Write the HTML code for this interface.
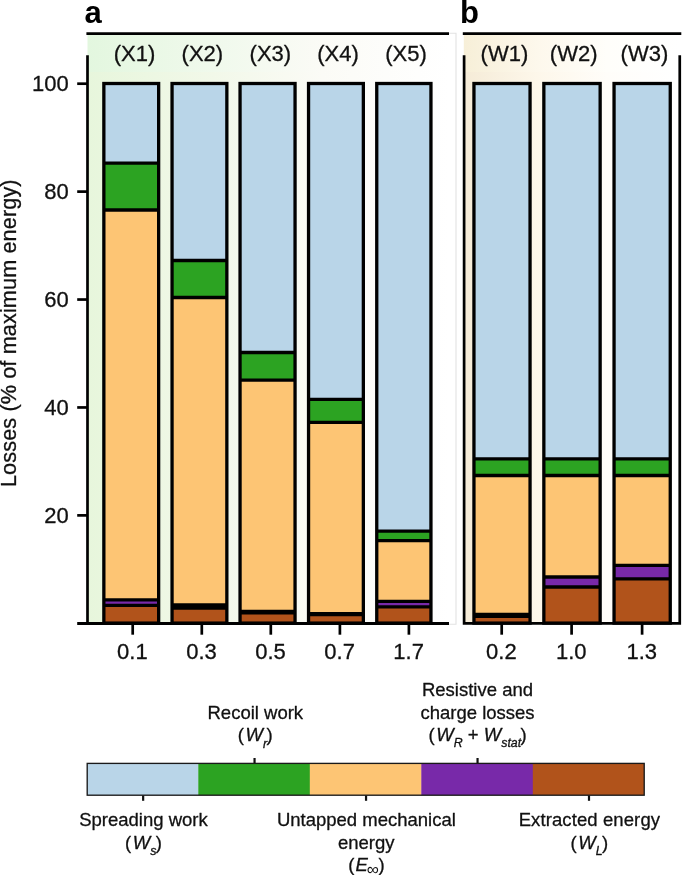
<!DOCTYPE html>
<html lang="en"><head><meta charset="utf-8"><title>Losses chart</title>
<style>
html,body{margin:0;padding:0;background:#fff;}
body{width:685px;height:875px;overflow:hidden;}
svg{display:block;}
text{font-family:"Liberation Sans",Arial,Helvetica,sans-serif;fill:#111;stroke:#111;stroke-width:0.3px;stroke-linejoin:round;}
.ax{font-size:22.0px;}
.lg{font-size:18.5px;}
.it{font-style:italic;}
.pl{font-size:31px;font-weight:bold;fill:#000;stroke:none;}
</style></head><body>
<svg width="685" height="875" viewBox="0 0 685 875">
<defs>
<linearGradient id="ga1" x1="0" x2="1" y1="0" y2="0">
<stop offset="0" stop-color="#e3f7df"/><stop offset="0.35" stop-color="#f0f9ec"/><stop offset="0.65" stop-color="#fbfbf6"/><stop offset="1" stop-color="#ffffff"/>
</linearGradient>
<linearGradient id="ga2" x1="0" x2="1" y1="0" y2="0">
<stop offset="0" stop-color="#e7f6dc"/><stop offset="0.35" stop-color="#f2f8e9"/><stop offset="0.65" stop-color="#fbfbf6"/><stop offset="1" stop-color="#ffffff"/>
</linearGradient>
<linearGradient id="gb1" x1="0" x2="1" y1="0" y2="0">
<stop offset="0" stop-color="#f7efd8"/><stop offset="0.34" stop-color="#fdf8ec"/><stop offset="0.66" stop-color="#fffefa"/><stop offset="1" stop-color="#ffffff"/>
</linearGradient>
<linearGradient id="gb2" x1="0" x2="1" y1="0" y2="0">
<stop offset="0" stop-color="#f5ebd7"/><stop offset="0.34" stop-color="#fdf7ea"/><stop offset="0.66" stop-color="#fffdf9"/><stop offset="1" stop-color="#ffffff"/>
</linearGradient>
</defs>
<rect x="0" y="0" width="685" height="875" fill="#ffffff"/>

<rect x="87.5" y="34" width="361.5" height="38" fill="url(#ga1)"/>
<rect x="87.5" y="72" width="361.5" height="551" fill="url(#ga2)"/>
<rect x="463.8" y="34" width="216.2" height="38" fill="url(#gb1)"/>
<rect x="463.8" y="72" width="216.2" height="551" fill="url(#gb2)"/>
<path d="M449 33.2H456V624.2H449" fill="none" stroke="#e2e2e2" stroke-width="1.1"/>
<rect x="103.85" y="83.50" width="54.80" height="79.60" fill="#b9d5e8"/>
<rect x="103.85" y="163.10" width="54.80" height="46.90" fill="#2ca322"/>
<rect x="103.85" y="210.00" width="54.80" height="389.90" fill="#fdc574"/>
<rect x="103.85" y="599.90" width="54.80" height="5.40" fill="#7829a9"/>
<rect x="103.85" y="605.30" width="54.80" height="17.80" fill="#b1531b"/>
<line x1="103.85" x2="158.65" y1="163.10" y2="163.10" stroke="#000" stroke-width="3.30"/>
<line x1="103.85" x2="158.65" y1="210.00" y2="210.00" stroke="#000" stroke-width="3.30"/>
<line x1="103.85" x2="158.65" y1="599.90" y2="599.90" stroke="#000" stroke-width="3.30"/>
<line x1="103.85" x2="158.65" y1="605.30" y2="605.30" stroke="#000" stroke-width="3.30"/>
<rect x="103.85" y="83.50" width="54.80" height="539.60" fill="none" stroke="#000" stroke-width="3.30"/>
<rect x="172.05" y="83.50" width="54.80" height="177.00" fill="#b9d5e8"/>
<rect x="172.05" y="260.50" width="54.80" height="37.00" fill="#2ca322"/>
<rect x="172.05" y="297.50" width="54.80" height="307.45" fill="#fdc574"/>
<rect x="172.05" y="604.95" width="54.80" height="3.20" fill="#7829a9"/>
<rect x="172.05" y="608.15" width="54.80" height="14.95" fill="#b1531b"/>
<line x1="172.05" x2="226.85" y1="260.50" y2="260.50" stroke="#000" stroke-width="3.30"/>
<line x1="172.05" x2="226.85" y1="297.50" y2="297.50" stroke="#000" stroke-width="3.30"/>
<line x1="172.05" x2="226.85" y1="604.95" y2="604.95" stroke="#000" stroke-width="3.30"/>
<line x1="172.05" x2="226.85" y1="608.15" y2="608.15" stroke="#000" stroke-width="3.30"/>
<rect x="172.05" y="604.95" width="54.80" height="3.20" fill="#000"/>
<rect x="172.05" y="83.50" width="54.80" height="539.60" fill="none" stroke="#000" stroke-width="3.30"/>
<rect x="240.05" y="83.50" width="55.00" height="269.00" fill="#b9d5e8"/>
<rect x="240.05" y="352.50" width="55.00" height="27.70" fill="#2ca322"/>
<rect x="240.05" y="380.20" width="55.00" height="231.25" fill="#fdc574"/>
<rect x="240.05" y="611.45" width="55.00" height="1.40" fill="#7829a9"/>
<rect x="240.05" y="612.85" width="55.00" height="10.25" fill="#b1531b"/>
<line x1="240.05" x2="295.05" y1="352.50" y2="352.50" stroke="#000" stroke-width="3.30"/>
<line x1="240.05" x2="295.05" y1="380.20" y2="380.20" stroke="#000" stroke-width="3.30"/>
<line x1="240.05" x2="295.05" y1="611.45" y2="611.45" stroke="#000" stroke-width="3.30"/>
<line x1="240.05" x2="295.05" y1="612.85" y2="612.85" stroke="#000" stroke-width="3.30"/>
<rect x="240.05" y="611.45" width="55.00" height="1.40" fill="#000"/>
<rect x="240.05" y="83.50" width="55.00" height="539.60" fill="none" stroke="#000" stroke-width="3.30"/>
<rect x="308.55" y="83.50" width="54.80" height="315.80" fill="#b9d5e8"/>
<rect x="308.55" y="399.30" width="54.80" height="23.10" fill="#2ca322"/>
<rect x="308.55" y="422.40" width="54.80" height="191.35" fill="#fdc574"/>
<rect x="308.55" y="613.75" width="54.80" height="0.80" fill="#7829a9"/>
<rect x="308.55" y="614.55" width="54.80" height="8.55" fill="#b1531b"/>
<line x1="308.55" x2="363.35" y1="399.30" y2="399.30" stroke="#000" stroke-width="3.30"/>
<line x1="308.55" x2="363.35" y1="422.40" y2="422.40" stroke="#000" stroke-width="3.30"/>
<line x1="308.55" x2="363.35" y1="613.75" y2="613.75" stroke="#000" stroke-width="3.30"/>
<line x1="308.55" x2="363.35" y1="614.55" y2="614.55" stroke="#000" stroke-width="3.30"/>
<rect x="308.55" y="613.75" width="54.80" height="0.80" fill="#000"/>
<rect x="308.55" y="83.50" width="54.80" height="539.60" fill="none" stroke="#000" stroke-width="3.30"/>
<rect x="376.75" y="83.50" width="54.20" height="447.70" fill="#b9d5e8"/>
<rect x="376.75" y="531.20" width="54.20" height="9.50" fill="#2ca322"/>
<rect x="376.75" y="540.70" width="54.20" height="60.70" fill="#fdc574"/>
<rect x="376.75" y="601.40" width="54.20" height="5.50" fill="#7829a9"/>
<rect x="376.75" y="606.90" width="54.20" height="16.20" fill="#b1531b"/>
<line x1="376.75" x2="430.95" y1="531.20" y2="531.20" stroke="#000" stroke-width="3.30"/>
<line x1="376.75" x2="430.95" y1="540.70" y2="540.70" stroke="#000" stroke-width="3.30"/>
<line x1="376.75" x2="430.95" y1="601.40" y2="601.40" stroke="#000" stroke-width="3.30"/>
<line x1="376.75" x2="430.95" y1="606.90" y2="606.90" stroke="#000" stroke-width="3.30"/>
<rect x="376.75" y="83.50" width="54.20" height="539.60" fill="none" stroke="#000" stroke-width="3.30"/>
<rect x="473.95" y="83.50" width="56.10" height="375.30" fill="#b9d5e8"/>
<rect x="473.95" y="458.80" width="56.10" height="16.70" fill="#2ca322"/>
<rect x="473.95" y="475.50" width="56.10" height="138.95" fill="#fdc574"/>
<rect x="473.95" y="614.45" width="56.10" height="1.90" fill="#7829a9"/>
<rect x="473.95" y="616.35" width="56.10" height="6.75" fill="#b1531b"/>
<line x1="473.95" x2="530.05" y1="458.80" y2="458.80" stroke="#000" stroke-width="3.30"/>
<line x1="473.95" x2="530.05" y1="475.50" y2="475.50" stroke="#000" stroke-width="3.30"/>
<line x1="473.95" x2="530.05" y1="614.45" y2="614.45" stroke="#000" stroke-width="3.30"/>
<line x1="473.95" x2="530.05" y1="616.35" y2="616.35" stroke="#000" stroke-width="3.30"/>
<rect x="473.95" y="614.45" width="56.10" height="1.90" fill="#000"/>
<rect x="473.95" y="83.50" width="56.10" height="539.60" fill="none" stroke="#000" stroke-width="3.30"/>
<rect x="543.85" y="83.50" width="56.30" height="375.30" fill="#b9d5e8"/>
<rect x="543.85" y="458.80" width="56.30" height="16.70" fill="#2ca322"/>
<rect x="543.85" y="475.50" width="56.30" height="101.50" fill="#fdc574"/>
<rect x="543.85" y="577.00" width="56.30" height="10.00" fill="#7829a9"/>
<rect x="543.85" y="587.00" width="56.30" height="36.10" fill="#b1531b"/>
<line x1="543.85" x2="600.15" y1="458.80" y2="458.80" stroke="#000" stroke-width="3.30"/>
<line x1="543.85" x2="600.15" y1="475.50" y2="475.50" stroke="#000" stroke-width="3.30"/>
<line x1="543.85" x2="600.15" y1="577.00" y2="577.00" stroke="#000" stroke-width="3.30"/>
<line x1="543.85" x2="600.15" y1="587.00" y2="587.00" stroke="#000" stroke-width="3.30"/>
<rect x="543.85" y="83.50" width="56.30" height="539.60" fill="none" stroke="#000" stroke-width="3.30"/>
<rect x="614.05" y="83.50" width="56.20" height="375.30" fill="#b9d5e8"/>
<rect x="614.05" y="458.80" width="56.20" height="16.70" fill="#2ca322"/>
<rect x="614.05" y="475.50" width="56.20" height="89.90" fill="#fdc574"/>
<rect x="614.05" y="565.40" width="56.20" height="13.50" fill="#7829a9"/>
<rect x="614.05" y="578.90" width="56.20" height="44.20" fill="#b1531b"/>
<line x1="614.05" x2="670.25" y1="458.80" y2="458.80" stroke="#000" stroke-width="3.30"/>
<line x1="614.05" x2="670.25" y1="475.50" y2="475.50" stroke="#000" stroke-width="3.30"/>
<line x1="614.05" x2="670.25" y1="565.40" y2="565.40" stroke="#000" stroke-width="3.30"/>
<line x1="614.05" x2="670.25" y1="578.90" y2="578.90" stroke="#000" stroke-width="3.30"/>
<rect x="614.05" y="83.50" width="56.20" height="539.60" fill="none" stroke="#000" stroke-width="3.30"/>
<line x1="86.4" x2="449" y1="33.6" y2="33.6" stroke="#000" stroke-width="2.70" fill="none"/>
<line x1="462.8" x2="681.3" y1="33.6" y2="33.6" stroke="#000" stroke-width="2.70" fill="none"/>
<line x1="87.5" x2="87.5" y1="55.3" y2="624.95" stroke="#000" stroke-width="2.70" fill="none"/>
<line x1="77.2" x2="449" y1="623.5" y2="623.5" stroke="#000" stroke-width="2.9"/>
<path d="M464.1 55.3V623.45H679.75V55.3" stroke="#000" stroke-width="2.70" fill="none"/>
<line x1="77.2" x2="87" y1="83.70" y2="83.70" stroke="#000" stroke-width="2.70" fill="none"/>
<text class="ax" x="68.8" y="91.30" text-anchor="end">100</text>
<line x1="77.2" x2="87" y1="191.62" y2="191.62" stroke="#000" stroke-width="2.70" fill="none"/>
<text class="ax" x="68.8" y="199.22" text-anchor="end">80</text>
<line x1="77.2" x2="87" y1="299.54" y2="299.54" stroke="#000" stroke-width="2.70" fill="none"/>
<text class="ax" x="68.8" y="307.14" text-anchor="end">60</text>
<line x1="77.2" x2="87" y1="407.46" y2="407.46" stroke="#000" stroke-width="2.70" fill="none"/>
<text class="ax" x="68.8" y="415.06" text-anchor="end">40</text>
<line x1="77.2" x2="87" y1="515.38" y2="515.38" stroke="#000" stroke-width="2.70" fill="none"/>
<text class="ax" x="68.8" y="522.98" text-anchor="end">20</text>
<line x1="132.70" x2="132.70" y1="624" y2="634.7" stroke="#000" stroke-width="2.70" fill="none"/>
<text class="ax" x="132.40" y="659.3" text-anchor="middle">0.1</text>
<line x1="201.80" x2="201.80" y1="624" y2="634.7" stroke="#000" stroke-width="2.70" fill="none"/>
<text class="ax" x="201.50" y="659.3" text-anchor="middle">0.3</text>
<line x1="270.80" x2="270.80" y1="624" y2="634.7" stroke="#000" stroke-width="2.70" fill="none"/>
<text class="ax" x="270.50" y="659.3" text-anchor="middle">0.5</text>
<line x1="339.90" x2="339.90" y1="624" y2="634.7" stroke="#000" stroke-width="2.70" fill="none"/>
<text class="ax" x="339.60" y="659.3" text-anchor="middle">0.7</text>
<line x1="408.90" x2="408.90" y1="624" y2="634.7" stroke="#000" stroke-width="2.70" fill="none"/>
<text class="ax" x="408.60" y="659.3" text-anchor="middle">1.7</text>
<line x1="501.70" x2="501.70" y1="624" y2="634.7" stroke="#000" stroke-width="2.70" fill="none"/>
<text class="ax" x="501.40" y="659.3" text-anchor="middle">0.2</text>
<line x1="571.60" x2="571.60" y1="624" y2="634.7" stroke="#000" stroke-width="2.70" fill="none"/>
<text class="ax" x="571.30" y="659.3" text-anchor="middle">1.0</text>
<line x1="642.10" x2="642.10" y1="624" y2="634.7" stroke="#000" stroke-width="2.70" fill="none"/>
<text class="ax" x="641.80" y="659.3" text-anchor="middle">1.3</text>
<text class="ax" x="134.45" y="61.3" text-anchor="middle">(X1)</text>
<text class="ax" x="202.40" y="61.3" text-anchor="middle">(X2)</text>
<text class="ax" x="270.40" y="61.3" text-anchor="middle">(X3)</text>
<text class="ax" x="338.00" y="61.3" text-anchor="middle">(X4)</text>
<text class="ax" x="406.00" y="61.3" text-anchor="middle">(X5)</text>
<text class="ax" x="504.40" y="61.3" text-anchor="middle">(W1)</text>
<text class="ax" x="573.70" y="61.3" text-anchor="middle">(W2)</text>
<text class="ax" x="644.40" y="61.3" text-anchor="middle">(W3)</text>
<text class="pl" x="84.5" y="23.2">a</text>
<text class="pl" x="460" y="23.2">b</text>
<text class="ax" style="font-size:21.7px" transform="translate(16.3 333.2) rotate(-90)" text-anchor="middle" letter-spacing="0.1">Losses (% of maximum energy)</text>
<rect x="87.00" y="763.4" width="111.60" height="31.8" fill="#b9d5e8"/>
<rect x="198.30" y="763.4" width="111.80" height="31.8" fill="#2ca322"/>
<rect x="309.80" y="763.4" width="111.80" height="31.8" fill="#fdc574"/>
<rect x="421.30" y="763.4" width="111.80" height="31.8" fill="#7829a9"/>
<rect x="532.80" y="763.4" width="111.40" height="31.8" fill="#b1531b"/>
<rect x="87.2" y="763.4" width="557.0" height="31.8" fill="none" stroke="#1a1a1a" stroke-width="1.35"/>
<line x1="143.15" x2="143.15" y1="795.5" y2="800.8" stroke="#111" stroke-width="2.2"/>
<line x1="366.05" x2="366.05" y1="795.5" y2="800.8" stroke="#111" stroke-width="2.2"/>
<line x1="589.00" x2="589.00" y1="795.5" y2="800.8" stroke="#111" stroke-width="2.2"/>
<line x1="254.55" x2="254.55" y1="758" y2="763" stroke="#111" stroke-width="2.2"/>
<line x1="477.55" x2="477.55" y1="758" y2="763" stroke="#111" stroke-width="2.2"/>
<text class="lg" x="143.50" y="826.30" text-anchor="middle">Spreading work</text>
<text class="lg" x="143.50" y="848.60" text-anchor="middle">(<tspan class="it" dx="1.6">W</tspan><tspan class="it" font-size="12.4" dy="6.4">s</tspan><tspan dy="-6.4" dx="-0.6">)</tspan></text>
<text class="lg" x="255.30" y="719.00" text-anchor="middle">Recoil work</text>
<text class="lg" x="255.30" y="741.30" text-anchor="middle">(<tspan class="it" dx="1.6">W</tspan><tspan class="it" font-size="12.4" dy="6.4">r</tspan><tspan dy="-6.4" dx="-0.6">)</tspan></text>
<text class="lg" x="366.40" y="826.30" text-anchor="middle">Untapped mechanical</text>
<text class="lg" x="366.20" y="848.60" text-anchor="middle">energy</text>
<text class="lg" x="366.50" y="871.20" text-anchor="middle">(<tspan class="it" dx="1.2">E</tspan><tspan font-size="17" dy="4" dx="-1.2" stroke="none">∞</tspan><tspan dy="-4" dx="-0.3">)</tspan></text>
<text class="lg" x="477.50" y="696.40" text-anchor="middle">Resistive and</text>
<text class="lg" x="477.50" y="718.80" text-anchor="middle">charge losses</text>
<text class="lg" x="477.50" y="741.00" text-anchor="middle">(<tspan class="it" dx="1.6">W</tspan><tspan class="it" font-size="12.4" dy="6.4">R</tspan><tspan dy="-6.4"> + </tspan><tspan class="it">W</tspan><tspan class="it" font-size="12.4" dy="6.4">stat</tspan><tspan dy="-6.4" dx="-0.8">)</tspan></text>
<text class="lg" x="589.4" y="826.3" text-anchor="middle" letter-spacing="0.1">Extracted energy</text>
<text class="lg" x="589.40" y="848.60" text-anchor="middle">(<tspan class="it" dx="1.6">W</tspan><tspan class="it" font-size="12.4" dy="6.4">L</tspan><tspan dy="-6.4" dx="-0.6">)</tspan></text>
</svg></body></html>
